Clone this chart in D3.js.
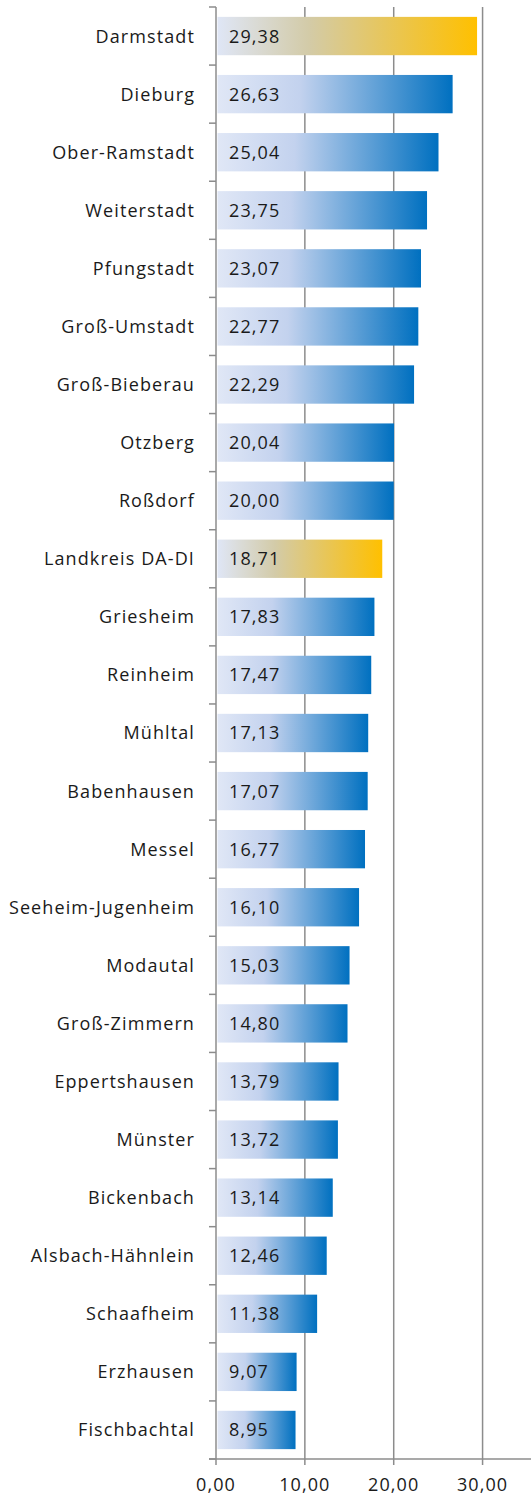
<!DOCTYPE html>
<html><head><meta charset="utf-8">
<script src="https://cdn.jsdelivr.net/npm/d3@7"></script>
<style>body{margin:0;background:#fff}</style>
</head><body>
<script>
const categories = ["Darmstadt","Dieburg","Ober-Ramstadt","Weiterstadt","Pfungstadt","Groß-Umstadt","Groß-Bieberau","Otzberg","Roßdorf","Landkreis DA-DI","Griesheim","Reinheim","Mühltal","Babenhausen","Messel","Seeheim-Jugenheim","Modautal","Groß-Zimmern","Eppertshausen","Münster","Bickenbach","Alsbach-Hähnlein","Schaafheim","Erzhausen","Fischbachtal"];
const values = [29.38,26.63,25.04,23.75,23.07,22.77,22.29,20.04,20.00,18.71,17.83,17.47,17.13,17.07,16.77,16.10,15.03,14.80,13.79,13.72,13.14,12.46,11.38,9.07,8.95];
const highlighted = ["Darmstadt","Landkreis DA-DI"];
const tickValues = [0,10,20,30];

const W=531,H=1497;
const pLeft=216, pRight=527, pTop=7, pBottom=1459;
const fmt = v => v.toFixed(2).replace(".", ",");
const font = "Open Sans, sans-serif";
const fs = 18, ls = 1.1;

const svg=d3.select("body").append("svg").attr("width",W).attr("height",H);
const defs=svg.append("defs");
const gb=defs.append("linearGradient").attr("id","gBlue").attr("x1","0").attr("x2","1").attr("y1","0").attr("y2","0");
gb.append("stop").attr("offset","0%").attr("stop-color","#e0e7f6");
gb.append("stop").attr("offset","35%").attr("stop-color","#c3d2ee");
gb.append("stop").attr("offset","100%").attr("stop-color","#0070c0");
const gg=defs.append("linearGradient").attr("id","gGold").attr("x1","0").attr("x2","1").attr("y1","0").attr("y2","0");
gg.append("stop").attr("offset","0%").attr("stop-color","#dfe6f6");
gg.append("stop").attr("offset","35%").attr("stop-color","#d3cba8");
gg.append("stop").attr("offset","100%").attr("stop-color","#ffc000");

const x=d3.scaleLinear().domain([0,35]).range([pLeft,pRight]);
const y=d3.scaleBand().domain(categories).range([pTop,pBottom]).paddingInner(0.34).paddingOuter(0.17);
const yb=d3.scaleBand().domain(categories).range([pTop,pBottom]);

// gridlines
svg.append("g").selectAll("line").data(tickValues.slice(1)).join("line")
  .attr("x1",d=>x(d)).attr("x2",d=>x(d)).attr("y1",pTop).attr("y2",pBottom+6)
  .attr("stroke","#8c8c8c").attr("stroke-width",1.5);

// bars
svg.append("g").selectAll("rect").data(categories).join("rect")
  .attr("x",x(0)+1.5).attr("y",d=>y(d)).attr("height",y.bandwidth())
  .attr("width",(d,i)=>x(values[i])-x(0)-1.5)
  .attr("fill",d=>highlighted.includes(d)?"url(#gGold)":"url(#gBlue)");

// value labels
svg.append("g").selectAll("text").data(categories).join("text")
  .attr("x",x(0)+13).attr("y",d=>y(d)+y.bandwidth()/2).attr("dy","0.36em")
  .attr("font-family",font).attr("font-size",fs).attr("letter-spacing",ls).attr("fill","#1a1a1a")
  .text((d,i)=>fmt(values[i]));

// left axis
svg.append("line").attr("x1",pLeft).attr("x2",pLeft).attr("y1",pTop).attr("y2",pBottom)
  .attr("stroke","#8c8c8c").attr("stroke-width",1.5);
const bounds=categories.map(c=>yb(c)).concat([pBottom]);
svg.append("g").selectAll("line").data(bounds).join("line")
  .attr("x1",pLeft-7).attr("x2",pLeft).attr("y1",d=>d).attr("y2",d=>d)
  .attr("stroke","#8c8c8c").attr("stroke-width",1.5);
svg.append("g").selectAll("text").data(categories).join("text")
  .attr("x",195).attr("y",d=>yb(d)+yb.bandwidth()/2).attr("dy","0.36em")
  .attr("text-anchor","end").attr("font-family",font).attr("font-size",fs).attr("letter-spacing",ls).attr("fill","#1a1a1a")
  .text(d=>d);

// bottom axis
svg.append("line").attr("x1",pLeft-7).attr("x2",W).attr("y1",pBottom).attr("y2",pBottom)
  .attr("stroke","#8c8c8c").attr("stroke-width",1.5);
svg.append("g").selectAll("line").data([0]).join("line")
  .attr("x1",d=>x(d)).attr("x2",d=>x(d)).attr("y1",pBottom).attr("y2",pBottom+6)
  .attr("stroke","#8c8c8c").attr("stroke-width",1.5);
svg.append("g").selectAll("text").data(tickValues).join("text")
  .attr("x",d=>x(d)).attr("y",1485).attr("dy","0.36em").attr("text-anchor","middle")
  .attr("font-family",font).attr("font-size",fs).attr("letter-spacing",ls).attr("fill","#1a1a1a")
  .text(d=>fmt(d));
</script>
</body></html>
